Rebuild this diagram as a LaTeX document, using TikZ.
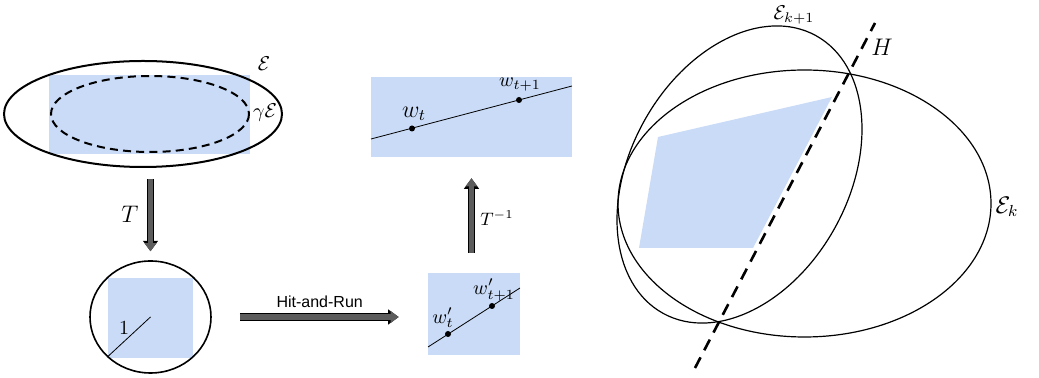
\documentclass[tikz,border=0pt]{standalone}
\usepackage{fontspec}
\newfontfamily\arialfont{Liberation Sans}
\usetikzlibrary{shapes.geometric,arrows.meta}
\definecolor{region}{RGB}{201,219,246}
\definecolor{shaft}{RGB}{92,92,92}
\tikzset{
  fatarrow/.style={draw=shaft, line width=2.6pt, -{Triangle[line width=0pt,length=4pt,width=6pt]},
    preaction={draw=black, line width=3.6pt, -{Triangle[line width=0pt,length=5.2pt,width=7.6pt]}}},
  regionbox/.style={fill=region, inner sep=0pt},
  dot/.style={circle, fill=black, inner sep=0pt, minimum size=3pt},
}

\begin{document}
\begin{tikzpicture}[x=0.5pt,y=-0.5pt]
  \useasboundingbox (0,0) rectangle (1039,378);

  % ellipsoid E, shrunk copy and the inner box
  \fill[region] (49,75) rectangle (250,154);
  \draw[line width=1pt, dash pattern=on 4pt off 2.6pt] (150,114) ellipse [x radius=99, y radius=38];
  \node[ellipse, draw, line width=1pt, minimum width=139pt, minimum height=53pt, inner sep=0pt] (bigE) at (143,114) {};
  \node (lblE)  at (264,64)  {$\mathcal{E}$};
  \node (lblgE) at (265,113) {$\gamma\mathcal{E}$};

  % isotropic position
  \fill[region] (108,278) rectangle (193,358);
  \node[ellipse, draw, line width=0.8pt, minimum width=60.5pt, minimum height=56pt, inner sep=0pt] (ball) at (150.5,317) {};
  \draw (ball.center) -- (ball.south west);
  \node (lblone) at (124,328) {$1$};

  % walk in transformed space
  \node[regionbox, minimum width=46pt, minimum height=41pt] (smallbox) at (474,314) {};
  \draw (428,347) -- (520,288);
  \node[dot] (wpt)  at (448,334) {};
  \node[dot] (wpt1) at (492,306) {};
  \node (lblwpt)  at (443,318) {$w'_t$};
  \node (lblwpt1) at (494,290) {$w'_{t+1}$};

  % walk in original space
  \node[regionbox, minimum width=100.5pt, minimum height=40pt] (topbox) at (471.5,117) {};
  \draw (371,139) -- (572,86);
  \node[dot] (wt)  at (412,128.5) {};
  \node[dot] (wt1) at (519,100) {};
  \node (lblwt)  at (414,114) {\large $w_t$};
  \node (lblwt1) at (520,85)  {$w_{t+1}$};

  % maps between the pictures
  \draw[fatarrow, shorten <=5.5pt, shorten >=4.5pt] (bigE.south -| ball.north) -- (ball.north);
  \node (lblT) at (130,214) {\large $T$};
  \draw[fatarrow, shorten <=14pt, shorten >=14.5pt] (ball.east) -- (ball.east -| smallbox.west)
        node[midway, above] {\arialfont\footnotesize Hit-and-Run};
  \draw[fatarrow, shorten <=10pt, shorten >=10.5pt] (topbox.south |- smallbox.north) -- (topbox.south);
  \node (lblTinv) at (497,218) {\small $T^{-1}$};

  % ellipsoid method step
  \fill[region] (658,137) -- (832,97) -- (753,248) -- (639,248) -- cycle;
  \draw[line width=0.6pt] (804.5,203.5) ellipse [x radius=186.5, y radius=133.5];
  \draw[line width=0.6pt, rotate around={61.2:(739.5,174.5)}] (739.5,174.5) ellipse [x radius=158.5, y radius=109.3];
  \draw[line width=1.3pt, dash pattern=on 6pt off 4pt] (695,368) -- (875,23);
  \node[inner sep=0pt] (lblEk1) at (794,15)  {$\mathcal{E}_{k+1}$};
  \node (lblH)   at (882,47)  {\large $H$};
  \node (lblEk)  at (1007,207) {\large $\mathcal{E}_k$};

\end{tikzpicture}
\end{document}
